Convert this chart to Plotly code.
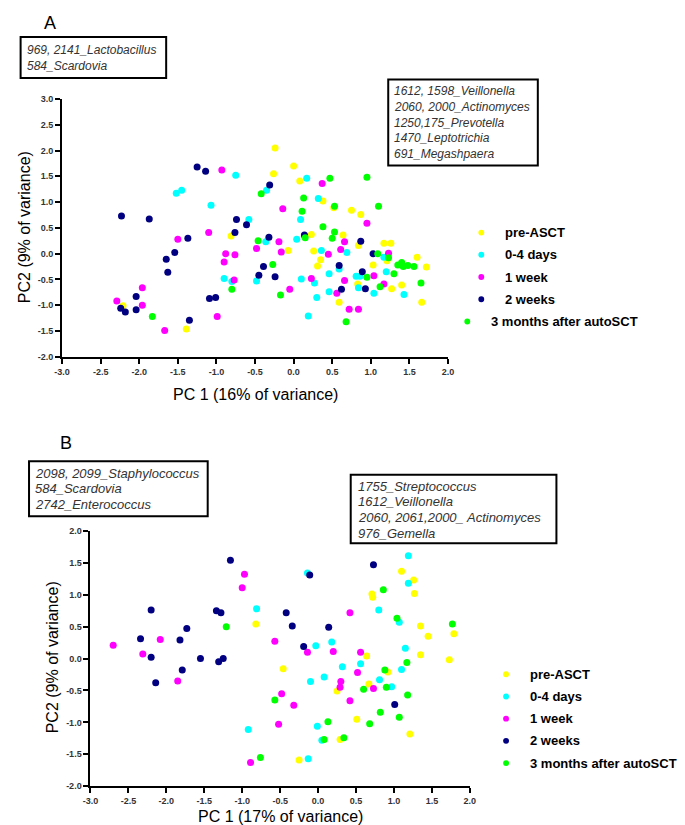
import plotly.graph_objects as go

W, H = 685, 825

# ---------------- data: panel A ----------------
groups = ["pre-ASCT", "0-4 days", "1 week", "2 weeks", "3 months after autoSCT"]
colors = ["#FFFF00", "#00FFFF", "#FF00FF", "#000080", "#00FF00"]

a_pre_x = [-0.81, -2.21, -1.39, -0.24, 0.00, -0.26, 0.08, 0.38, 0.52, 0.75, 0.87, 0.23, 0.64, 1.17, 1.26,
           0.84, -0.07, 0.26, 0.35, 0.31, 1.03, 1.21, 1.60, 1.72, 0.83, 1.27, 1.40, 0.59, 1.66]
a_pre_y = [0.34, -1.01, -1.46, 2.05, 1.70, 1.55, 1.41, 1.02, 0.89, 0.84, 0.76, 0.37, 0.36, 0.20, 0.20,
           0.16, 0.06, 0.05, -0.12, -0.24, -0.22, -0.14, -0.07, -0.26, -0.59, -0.68, -0.61, -0.94, -0.94]
a_d04_x = [-0.75, -1.52, -1.45, -1.07, -0.58, -0.90, -0.80, -0.48, 0.17, -0.35, 0.32, 0.09, -0.36, 0.04,
           0.14, 0.36, 0.69, 1.17, 0.46, 0.59, 0.10, 0.27, 0.81, 0.86, 1.20, 0.84, 0.46, 0.30, 1.04, 1.43, 0.19]
a_d04_y = [1.52, 1.17, 1.23, 0.94, 0.66, -0.48, -0.54, -0.53, 1.46, 1.23, 1.07, 0.66, 0.23, 0.28,
           0.34, 0.06, 0.02, -0.07, -0.39, -0.30, -0.49, -0.57, -0.44, -0.44, -0.35, -0.66, -0.74, -0.85, -0.77, -0.79, -1.21]
a_w1_x = [-0.93, -1.50, -1.10, -0.88, -0.76, -0.90, -0.48, -0.77, -1.96, -2.29, -1.96, -0.99, -1.67, -0.19,
          -0.16, -0.05, 0.37, -0.14, 0.95, 0.66, 0.45, 0.61, 1.23, 0.23, 0.66, 1.04, 1.17, 0.56, 0.72, 0.84]
a_w1_y = [1.62, 0.28, 0.41, 0.00, -0.02, -0.16, 0.10, -0.51, -0.66, -0.92, -1.00, -1.22, -1.49, 0.23,
          0.03, -0.69, 1.36, 0.87, 0.59, 0.23, -0.01, 0.08, 0.01, -0.48, -0.52, -0.43, -0.59, -0.77, -1.08, -1.08]
a_w2_x = [-1.25, -1.14, -2.23, -1.87, -0.74, -0.61, -0.76, -1.37, -1.54, -1.65, -1.63, -0.45, -2.04, -1.09,
          -1.01, -2.24, -2.18, -2.04, -1.35, -0.39, -0.32, -0.24, -0.31, 0.14, 0.87, 1.03, 0.59, 0.89, 0.93, 0.62]
a_w2_y = [1.68, 1.60, 0.73, 0.67, 0.66, 0.56, 0.41, 0.30, 0.02, -0.11, -0.36, -0.42, -0.83, -0.87,
          -0.85, -1.06, -1.13, -1.09, -1.29, -0.25, 0.32, -0.45, 1.33, 0.36, 0.24, 0.00, -0.23, -0.35, -0.68, -0.69]
a_m3_x = [-0.42, -0.46, -0.80, -1.83, -0.27, -0.17, 0.47, 0.95, 0.13, 0.11, 0.53, 1.10, 0.38, 0.53, 0.50,
          0.15, 1.09, 1.23, 0.95, 1.30, 1.35, 1.40, 1.42, 1.48, 1.56, 1.12, 1.65, 0.68]
a_m3_y = [1.16, 0.25, -0.69, -1.22, -0.21, -0.80, 1.46, 1.48, 1.08, 0.82, 0.92, 0.92, 0.52, 0.42, 0.30,
          0.31, 0.00, -0.08, -0.46, -0.39, -0.22, -0.17, -0.25, -0.23, -0.25, -0.64, -0.57, -1.32]

# ---------------- data: panel B ----------------
b_pre_x = [-0.82, -0.46, -0.25, 1.10, 1.26, 1.27, 0.71, 0.72, 1.35, 1.45, 1.79, 1.35, 1.73, 0.64, 0.92,
           0.67, 0.25, 0.51, 1.21, 0.29]
b_pre_y = [0.54, -0.16, -1.59, 1.37, 1.23, 1.02, 1.01, 0.96, 0.51, 0.35, 0.39, 0.06, -0.02, 0.04, -0.21,
           -0.40, -0.51, -0.95, -1.18, -1.27]
b_d04_x = [-0.81, -0.92, -0.10, -0.03, -0.13, -0.01, 0.05, 0.08, 0.18, 1.19, -0.14, 1.19, 0.80, 1.07,
           1.15, 0.56, 0.32, 1.10, 0.81, 0.97]
b_d04_y = [0.78, -1.11, -0.36, 0.20, -1.57, -1.06, -1.28, -0.29, 0.26, 1.61, 1.34, 1.18, 0.76, 0.57,
           0.16, -0.08, -0.13, -0.17, -0.33, -0.44]
b_w1_x = [-0.97, -1.00, -2.70, -2.08, -2.31, -1.85, -0.57, -0.48, -0.52, -0.89, -0.32, -0.14, 0.20, 0.42,
          0.56, 0.52, 0.30, 0.29, 0.73, 0.42]
b_w1_y = [1.32, 1.11, 0.21, 0.30, 0.07, -0.35, 0.27, -0.55, -1.03, -1.63, -0.73, 0.10, 0.11, 0.72,
          0.10, -0.22, -0.36, -0.45, -0.47, -0.66]
b_w2_x = [-1.155, -2.20, -1.34, -1.28, -1.73, -2.34, -1.82, -2.20, -1.55, -1.31, -1.25, -1.79, -2.14,
          -0.42, -0.19, -0.34, 0.14, -0.11, 0.73, 1.01]
b_w2_y = [1.54, 0.76, 0.75, 0.72, 0.47, 0.31, 0.29, 0.02, 0.00, -0.05, 0.00, -0.18, -0.38,
          0.72, 0.19, 0.51, 0.49, 1.31, 1.47, -0.72]
b_m3_x = [-1.21, -0.57, -0.76, 0.13, 0.08, 0.86, 1.04, 1.77, 1.17, 0.88, 0.60, 0.90, 1.18, 0.68, 0.82,
          1.07, 0.34]
b_m3_y = [0.50, -0.65, -1.55, -0.99, -1.27, 1.08, 0.63, 0.54, -0.06, -0.18, -0.48, -0.45, -0.57, -1.02,
          -0.84, -0.92, -1.24]

tick_x = [-3.0, -2.5, -2.0, -1.5, -1.0, -0.5, 0.0, 0.5, 1.0, 1.5, 2.0]
tick_ya = [-2.0, -1.5, -1.0, -0.5, 0.0, 0.5, 1.0, 1.5, 2.0, 2.5, 3.0]
tick_yb = [-2.0, -1.5, -1.0, -0.5, 0.0, 0.5, 1.0, 1.5, 2.0]

xtitle_a = "PC 1 (16% of variance)"
xtitle_b = "PC 1 (17% of variance)"
ytitle = "PC2 (9% of variance)"

box_a_left = ["969, 2141_Lactobacillus", "584_Scardovia"]
box_a_right = ["1612, 1598_Veillonella", "2060, 2000_Actinomyces", "1250,175_Prevotella",
               "1470_Leptotrichia", "691_Megashpaera"]
box_b_left = ["2098, 2099_Staphylococcus", "584_Scardovia", "2742_Enterococcus"]
box_b_right = ["1755_Streptococcus", "1612_Veillonella", "2060, 2061,2000_ Actinomyces", "976_Gemella"]

A = [(a_pre_x, a_pre_y), (a_d04_x, a_d04_y), (a_w1_x, a_w1_y), (a_w2_x, a_w2_y), (a_m3_x, a_m3_y)]
B = [(b_pre_x, b_pre_y), (b_d04_x, b_d04_y), (b_w1_x, b_w1_y), (b_w2_x, b_w2_y), (b_m3_x, b_m3_y)]

fig = go.Figure()
for (xs, ys), g, c in zip(A, groups, colors):
    fig.add_trace(go.Scatter(x=xs, y=ys, mode="markers", name=g, showlegend=False,
                             marker=dict(color=c, size=7, line=dict(width=0)),
                             xaxis="x", yaxis="y"))
for (xs, ys), g, c in zip(B, groups, colors):
    fig.add_trace(go.Scatter(x=xs, y=ys, mode="markers", name=g, showlegend=False,
                             marker=dict(color=c, size=7, line=dict(width=0)),
                             xaxis="x2", yaxis="y2"))

def px(x):
    return x / W

def py(y):
    return 1 - y / H

FONT = "Liberation Sans, Arial, sans-serif"
tickfont = dict(family=FONT, size=9, color="#333333", weight="bold")

def fmt(v):
    return "%.1f" % v

axis_common = dict(showgrid=False, zeroline=False, showline=True, linecolor="black", linewidth=2,
                   ticks="outside", ticklen=5, tickwidth=1.5, tickcolor="black", tickfont=tickfont,
                   mirror=False)

fig.update_layout(
    width=W, height=H, margin=dict(l=0, r=0, t=0, b=0),
    paper_bgcolor="white", plot_bgcolor="white", showlegend=False,
    xaxis=dict(domain=[px(47), px(441)], range=[-3, 2], anchor="y",
               tickvals=tick_x, ticktext=[fmt(v) for v in tick_x], **axis_common),
    yaxis=dict(domain=[py(348), py(87)], range=[-2, 3], anchor="x",
               tickvals=tick_ya, ticktext=[fmt(v) for v in tick_ya], **axis_common),
    xaxis2=dict(domain=[px(76), px(463.3)], range=[-3, 2], anchor="y2",
                tickvals=tick_x, ticktext=[fmt(v) for v in tick_x], **axis_common),
    yaxis2=dict(domain=[py(782.7), py(524.3)], range=[-2, 2], anchor="x2",
                tickvals=tick_yb, ticktext=[fmt(v) for v in tick_yb], **axis_common),
)

ann = []
shapes = []

def note(text, x, y, size, xanchor="left", angle=0, color="black"):
    ann.append(dict(text=text, x=px(x), y=py(y), xref="paper", yref="paper",
                    xanchor=xanchor, yanchor="middle", showarrow=False, textangle=angle,
                    font=dict(family=FONT, size=size, color=color)))

# panel letters
note("A", 27, 10, 18)
note("B", 43, 435, 18)

# axis titles
note(xtitle_a, 245, 386.5, 16, xanchor="center")
note(ytitle, 9, 217, 16, xanchor="center", angle=-90)
note(xtitle_b, 270, 813, 16, xanchor="center")
note(ytitle, 37, 652, 16, xanchor="center", angle=-90)

# text boxes
def textbox(lines, x0, y0, x1, y1, tx, ty0, dy, size):
    shapes.append(dict(type="rect", xref="paper", yref="paper", x0=px(x0), x1=px(x1), y0=py(y1), y1=py(y0),
                       line=dict(color="black", width=2), fillcolor="rgba(0,0,0,0)"))
    for i, t in enumerate(lines):
        note("<i>%s</i>" % t, tx, ty0 + i * dy, size, color="#333333")

textbox(box_a_left, 4.7, 24.3, 153.3, 65.7, 9, 37.7, 15.6, 12)
textbox(box_a_right, 380, 67.3, 532.7, 154.3, 384, 79.3, 15.85, 12)
textbox(box_b_left, 13.3, 453.7, 195.7, 509.3, 17.3, 466, 15.7, 13)
textbox(box_b_right, 341.7, 467.3, 551.7, 536.7, 346.7, 479, 15.9, 13)

# manual legends
def legend(mx, tx, y0, dy, last_mx, last_tx):
    for i, (g, c) in enumerate(zip(groups, colors)):
        yy = y0 + i * dy
        mxx = mx if i < 4 else last_mx
        txx = tx if i < 4 else last_tx
        r = 3
        shapes.append(dict(type="circle", xref="paper", yref="paper",
                           x0=px(mxx - r), x1=px(mxx + r), y0=py(yy + r), y1=py(yy - r),
                           fillcolor=c, line=dict(width=0)))
        note("<b>%s</b>" % g, txx, yy, 13)

legend(475, 497.5, 222.3, 22.5, 460.7, 483)
legend(500.3, 522.5, 669.3, 22.5, 500.3, 522.5)

fig.update_layout(annotations=ann, shapes=shapes)
fig.write_html("out.html")
